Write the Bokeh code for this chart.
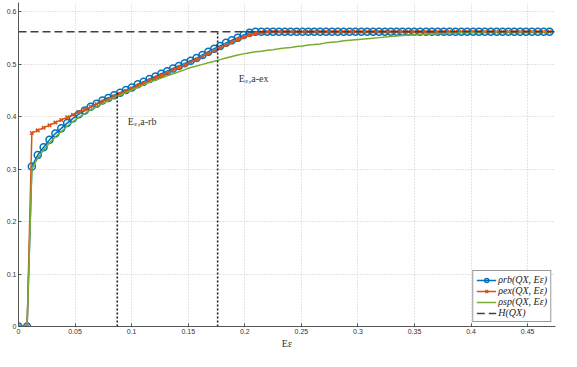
from bokeh.plotting import figure
from bokeh.models import FixedTicker, Legend
from bokeh.core.properties import value
from bokeh.embed import file_html
from bokeh.resources import INLINE

# ---------------- data ----------------
x_grid = [0.0, 0.0076,
          0.0118, 0.0170, 0.0222, 0.0274, 0.0326, 0.0378, 0.0430, 0.0482, 0.0534, 0.0586,
          0.0638, 0.0690, 0.0742, 0.0794, 0.0846, 0.0898, 0.0950, 0.1002, 0.1054, 0.1106,
          0.1158, 0.1210, 0.1262, 0.1314, 0.1366, 0.1418, 0.1470, 0.1522, 0.1574, 0.1626,
          0.1678, 0.1730, 0.1782, 0.1834, 0.1886, 0.1938, 0.1990, 0.2042, 0.2094, 0.2146,
          0.2198, 0.2250, 0.2302, 0.2354, 0.2406, 0.2458, 0.2510, 0.2562, 0.2614, 0.2666,
          0.2718, 0.2770, 0.2822, 0.2874, 0.2926, 0.2978, 0.3030, 0.3082, 0.3134, 0.3186,
          0.3238, 0.3290, 0.3342, 0.3394, 0.3446, 0.3498, 0.3550, 0.3602, 0.3654, 0.3706,
          0.3758, 0.3810, 0.3862, 0.3914, 0.3966, 0.4018, 0.4070, 0.4122, 0.4174, 0.4226,
          0.4278, 0.4330, 0.4382, 0.4434, 0.4486, 0.4538, 0.4590, 0.4642, 0.4694]

rho_rb = [0.0, 0.0,
          0.305, 0.327, 0.342, 0.356, 0.368, 0.378, 0.388, 0.397, 0.405, 0.412,
          0.419, 0.425, 0.431, 0.436, 0.441, 0.446, 0.451, 0.456, 0.462, 0.467,
          0.472, 0.477, 0.482, 0.487, 0.492, 0.497, 0.502, 0.507, 0.512, 0.518,
          0.524, 0.530, 0.535, 0.541, 0.546, 0.551, 0.556, 0.5605, 0.5623, 0.5623,
          0.5623, 0.5623, 0.5623, 0.5623, 0.5623, 0.5623, 0.5623, 0.5623, 0.5623, 0.5623,
          0.5623, 0.5623, 0.5623, 0.5623, 0.5623, 0.5623, 0.5623, 0.5623, 0.5623, 0.5623,
          0.5623, 0.5623, 0.5623, 0.5623, 0.5623, 0.5623, 0.5623, 0.5623, 0.5623, 0.5623,
          0.5623, 0.5623, 0.5623, 0.5623, 0.5623, 0.5623, 0.5623, 0.5623, 0.5623, 0.5623,
          0.5623, 0.5623, 0.5623, 0.5623, 0.5623, 0.5623, 0.5623, 0.5623, 0.5623]

rho_ex = [0.0, 0.0,
          0.369, 0.374, 0.379, 0.384, 0.389, 0.394, 0.399, 0.404, 0.409, 0.414,
          0.419, 0.424, 0.429, 0.434, 0.439, 0.444, 0.449, 0.454, 0.459, 0.464,
          0.469, 0.474, 0.479, 0.484, 0.489, 0.494, 0.499, 0.504, 0.509, 0.515,
          0.520, 0.526, 0.531, 0.537, 0.542, 0.547, 0.552, 0.556, 0.559, 0.561,
          0.562, 0.5623, 0.5623, 0.5623, 0.5623, 0.5623, 0.5623, 0.5623, 0.5623, 0.5623,
          0.5623, 0.5623, 0.5623, 0.5623, 0.5623, 0.5623, 0.5623, 0.5623, 0.5623, 0.5623,
          0.5623, 0.5623, 0.5623, 0.5623, 0.5623, 0.5623, 0.5623, 0.5623, 0.5623, 0.5623,
          0.5623, 0.5623, 0.5623, 0.5623, 0.5623, 0.5623, 0.5623, 0.5623, 0.5623, 0.5623,
          0.5623, 0.5623, 0.5623, 0.5623, 0.5623, 0.5623, 0.5623, 0.5623, 0.5623]

rho_sp = [0.0, 0.0,
          0.300, 0.321, 0.337, 0.350, 0.362, 0.372, 0.382, 0.391, 0.399, 0.406,
          0.413, 0.419, 0.425, 0.431, 0.436, 0.441, 0.446, 0.451, 0.456, 0.461,
          0.466, 0.470, 0.474, 0.478, 0.482, 0.486, 0.490, 0.494, 0.497, 0.500,
          0.503, 0.506, 0.509, 0.512, 0.515, 0.518, 0.520, 0.522, 0.524, 0.525,
          0.527, 0.528, 0.530, 0.531, 0.532, 0.534, 0.535, 0.537, 0.538, 0.539,
          0.541, 0.542, 0.543, 0.545, 0.546, 0.547, 0.548, 0.549, 0.550, 0.551,
          0.552, 0.553, 0.554, 0.555, 0.556, 0.556, 0.557, 0.558, 0.558, 0.559,
          0.559, 0.560, 0.560, 0.561, 0.561, 0.561, 0.561, 0.562, 0.562, 0.562,
          0.562, 0.562, 0.562, 0.562, 0.562, 0.562, 0.562, 0.562, 0.562]

H_QX = 0.5623
x_min, x_max = 0.0, 0.4746
y_min, y_max = 0.0, 0.618

E_a_rb = 0.0873
E_a_rb_top = 0.446
E_a_ex = 0.176
E_a_ex_top = 0.5623

label_rb_pos = (0.0966, 0.391)
label_ex_pos = (0.1947, 0.473)

x_ticks = [0, 0.05, 0.1, 0.15, 0.2, 0.25, 0.3, 0.35, 0.4, 0.45]
x_tick_labels = ["0", "0.05", "0.1", "0.15", "0.2", "0.25", "0.3", "0.35", "0.4", "0.45"]
y_ticks = [0, 0.1, 0.2, 0.3, 0.4, 0.5, 0.6]
y_tick_labels = ["0", "0.1", "0.2", "0.3", "0.4", "0.5", "0.6"]

legend_labels = ["ρrb(QX, Eε)", "ρex(QX, Eε)", "ρsp(QX, Eε)", "H(QX)"]

# ---------------- styles ----------------
C_BLUE = "#0072BD"
C_RED = "#D95319"
C_GREEN = "#77AC30"
C_DASH = "#404040"
AXIS_C = "#555555"
SERIF = "Liberation Serif"

p = figure(width=561, height=351, output_backend="svg", toolbar_location=None,
           x_range=(x_min, x_max), y_range=(y_min, y_max),
           min_border_left=18, min_border_right=6, min_border_top=2, min_border_bottom=0)
p.outline_line_color = None
p.background_fill_color = "white"
p.border_fill_color = "white"

for ax, ticks, labels in ((p.xaxis[0], x_ticks, x_tick_labels), (p.yaxis[0], y_ticks, y_tick_labels)):
    ax.ticker = FixedTicker(ticks=ticks)
    ax.major_label_overrides = {t: l for t, l in zip(ticks, labels)}
    ax.minor_tick_line_color = None
    ax.major_tick_in = 3
    ax.major_tick_out = 0
    ax.axis_line_color = AXIS_C
    ax.major_tick_line_color = AXIS_C
    ax.major_label_text_font = "Liberation Sans"
    ax.major_label_text_font_size = "7px"
    ax.major_label_text_color = "#333333"
    ax.major_label_standoff = 2

p.xaxis.axis_label = "Eε"
p.xaxis.axis_label_text_font = SERIF
p.xaxis.axis_label_text_font_style = "normal"
p.xaxis.axis_label_text_font_size = "10px"
p.xaxis.axis_label_text_color = "#333333"
p.xaxis.axis_label_standoff = 1

p.grid.grid_line_color = "#c8c8c8"
p.grid.grid_line_dash = "1 2"
p.grid.grid_line_width = 1

# series
r_rb_l = p.line(x_grid, rho_rb, color=C_BLUE, line_width=1.5)
r_rb_m = p.scatter(x_grid, rho_rb, marker="circle", size=7, line_color=C_BLUE,
                   fill_color=None, line_width=1.5)
r_ex_l = p.line(x_grid, rho_ex, color=C_RED, line_width=1.5)
r_ex_m = p.scatter(x_grid, rho_ex, marker="x", size=5, line_color=C_RED, line_width=1.5)
r_sp = p.line(x_grid, rho_sp, color=C_GREEN, line_width=1.5)
r_h = p.line([x_min, x_max], [H_QX, H_QX], color=C_DASH, line_width=1.5, line_dash="8 4")

# vertical dotted markers
p.segment(x0=[E_a_rb, E_a_ex], y0=[y_min, y_min], x1=[E_a_rb, E_a_ex],
          y1=[E_a_rb_top, E_a_ex_top], line_color="#222222", line_width=1.6, line_dash="2 2")

# text annotations: E + subscript eps + rest
for (lx, ly), rest in ((label_rb_pos, ",a-rb"), (label_ex_pos, ",a-ex")):
    p.text(x=[lx], y=[ly], text=["E"], text_font=value(SERIF), text_font_size="10px",
           text_color="#333333", text_baseline="alphabetic", text_align="left")
    p.text(x=[lx], y=[ly], text=["ε"], text_font=value(SERIF), text_font_size="7px",
           text_color="#333333", text_baseline="alphabetic", text_align="left",
           x_offset=6.5, y_offset=2.5)
    p.text(x=[lx], y=[ly], text=[rest], text_font=value(SERIF), text_font_size="10px",
           text_color="#333333", text_baseline="alphabetic", text_align="left",
           x_offset=10)

legend = Legend(items=[(legend_labels[0], [r_rb_l, r_rb_m]),
                       (legend_labels[1], [r_ex_l, r_ex_m]),
                       (legend_labels[2], [r_sp]),
                       (legend_labels[3], [r_h])],
                location="bottom_right")
legend.label_text_font = SERIF
legend.label_text_font_style = "italic"
legend.label_text_font_size = "10px"
legend.label_text_color = "#222222"
legend.label_height = 10
legend.glyph_height = 10
legend.glyph_width = 20
legend.spacing = 0
legend.padding = 3
legend.margin = 4
legend.label_standoff = 2
legend.border_line_color = "#333333"
legend.border_line_width = 1
legend.background_fill_alpha = 1
p.add_layout(legend)

open("out.html", "w").write(file_html(p, INLINE))
